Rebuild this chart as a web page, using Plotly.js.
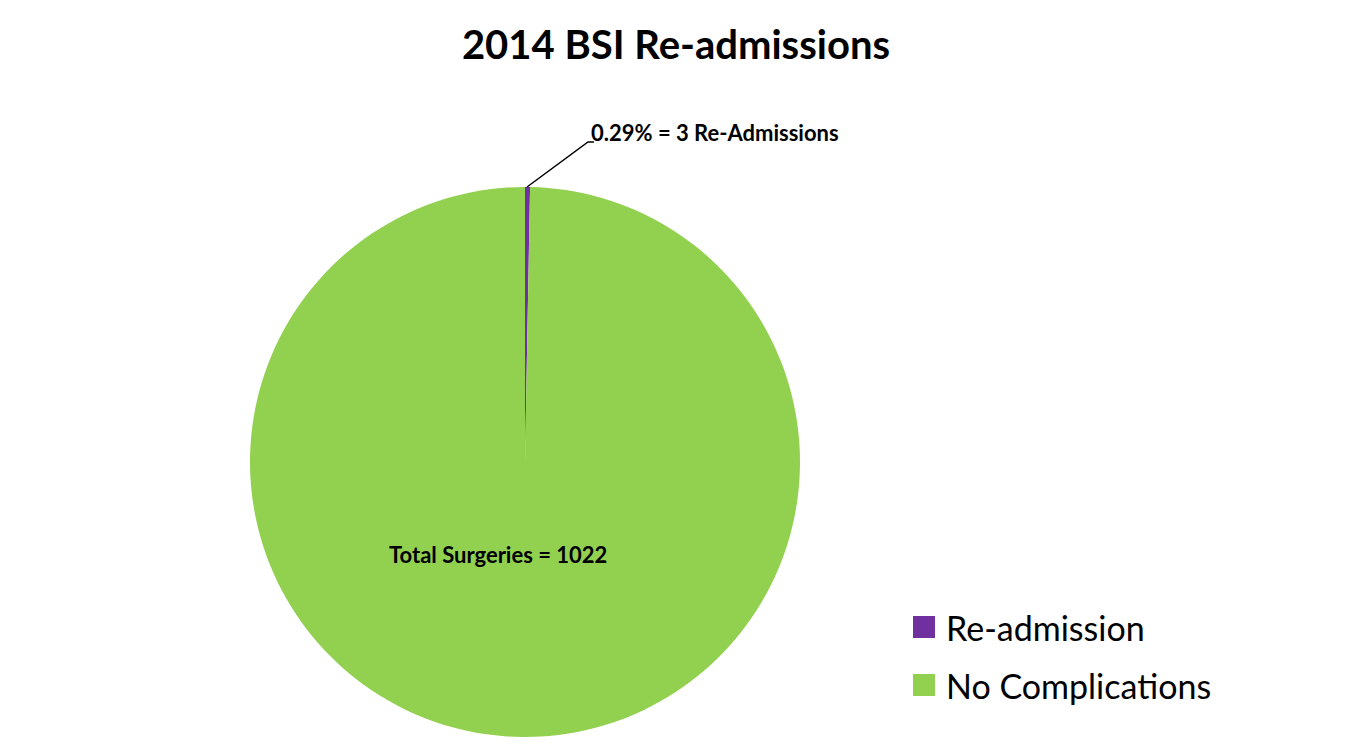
<!DOCTYPE html>
<html><head><meta charset="utf-8">
<script src="https://cdn.plot.ly/plotly-3.0.1.min.js"></script>
<style>html,body{margin:0;padding:0;background:#fff}#chart{width:1351px;height:744px}</style>
</head><body><div id="chart"></div>
<script>
const chartTitle = '2014 BSI Re-admissions';
const categories = ['Re-admission', 'No Complications'];
const values = [3, 1019];
const colors = ['#7030A0', '#92D050'];
const total = values.reduce((a, b) => a + b, 0);
const pctText = (values[0] / total * 100).toFixed(2) + '% = ' + values[0] + ' Re-Admissions';
const totalText = 'Total Surgeries = ' + total;

const W = 1351, H = 744;
const font = 'Lato, "Open Sans", sans-serif';

const data = [{
  type: 'pie',
  labels: categories,
  values: values,
  marker: {colors: colors, line: {width: 0}},
  sort: false,
  direction: 'clockwise',
  rotation: 0,
  textinfo: 'none',
  hoverinfo: 'label+value+percent',
  showlegend: false,
  domain: {x: [250 / W, 800 / W], y: [7 / H, 557 / H]}
}];

const annotations = [
  {text: '<b>' + pctText + '</b>', xref: 'paper', yref: 'paper',
   x: 589 / W, y: 1 - 133 / H, xanchor: 'left', yanchor: 'middle', showarrow: false,
   font: {family: font, size: 22, color: '#000'}},
  {text: '<b>' + totalText + '</b>', xref: 'paper', yref: 'paper',
   x: 498 / W, y: 1 - 554 / H, xanchor: 'center', yanchor: 'middle', showarrow: false,
   font: {family: font, size: 22, color: '#000'}}
];
const shapes = [
  {type: 'path', xref: 'paper', yref: 'paper',
   path: 'M ' + (527 / W) + ' ' + (1 - 187 / H) + ' L ' + (588 / W) + ' ' + (1 - 142 / H) + ' L ' + (594 / W) + ' ' + (1 - 142 / H),
   line: {color: '#000', width: 1.5}}
];

// Legend built from categories / colors
const legX = 913, legY0 = 627, legGap = 58, sq = 22;
categories.forEach((c, i) => {
  const cy = legY0 + i * legGap;
  shapes.push({type: 'rect', xref: 'paper', yref: 'paper',
    x0: legX / W, x1: (legX + sq) / W, y0: 1 - (cy - sq / 2) / H, y1: 1 - (cy + sq / 2) / H,
    fillcolor: colors[i], line: {width: 0}});
  annotations.push({text: c, xref: 'paper', yref: 'paper',
    x: (legX + sq + 9) / W, y: 1 - cy / H, xanchor: 'left', yanchor: 'middle', showarrow: false,
    font: {family: font, size: 34, color: '#000'}});
});

const layout = {
  width: W, height: H,
  margin: {l: 0, r: 0, t: 0, b: 0},
  paper_bgcolor: '#fff',
  plot_bgcolor: '#fff',
  font: {family: font, color: '#000'},
  title: {text: '<b>' + chartTitle + '</b>', x: 676 / W, xanchor: 'center', y: 1 - 45 / H, yanchor: 'middle',
          font: {family: font, size: 40, color: '#000'}},
  showlegend: false,
  annotations: annotations,
  shapes: shapes
};

Plotly.newPlot('chart', data, layout, {displayModeBar: false, staticPlot: true});
</script></body></html>
